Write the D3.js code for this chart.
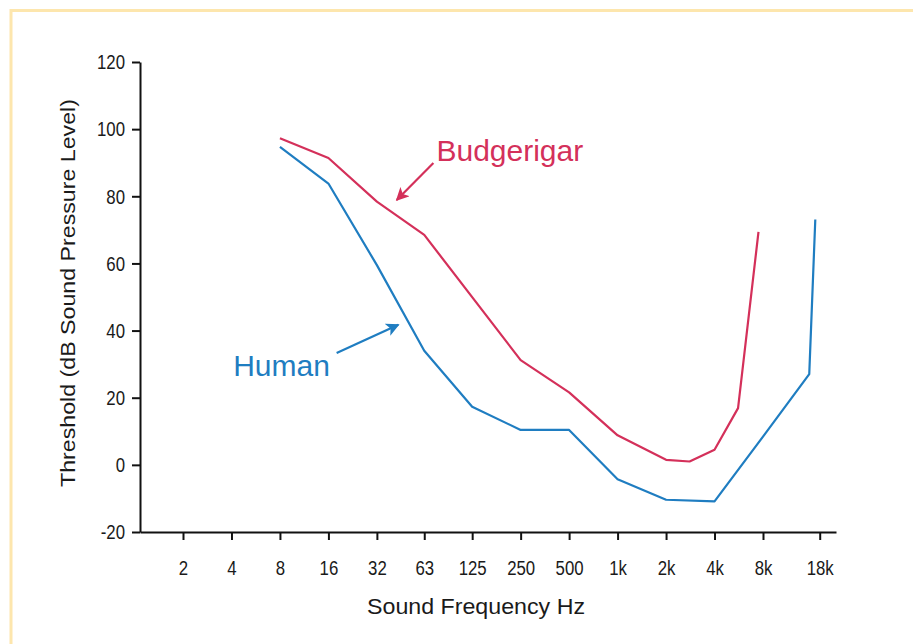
<!DOCTYPE html>
<html>
<head>
<meta charset="utf-8">
<script src="https://cdn.jsdelivr.net/npm/d3@7"></script>
<style>
  html, body { margin: 0; padding: 0; background: #ffffff; }
  svg { display: block; }
  text { font-family: "Liberation Sans", Arial, Helvetica, sans-serif; }
</style>
</head>
<body>
<svg id="chart" width="913" height="644"></svg>
<script>
// ---------- data ----------
const tickFreqs  = [2, 4, 8, 16, 32, 63, 125, 250, 500, 1000, 2000, 4000, 8000, 18000];
const tickLabels = ["2", "4", "8", "16", "32", "63", "125", "250", "500", "1k", "2k", "4k", "8k", "18k"];
const yTicks     = [-20, 0, 20, 40, 60, 80, 100, 120];

const budgieFreq = [8, 16, 32, 63, 250, 500, 1000, 2000, 2800, 4000, 5600, 7500];
const budgieDb   = [97.3, 91.4, 78.4, 68.5, 31.2, 21.6, 8.8, 1.5, 1.0, 4.5, 16.9, 69.4];

const humanFreq  = [8, 16, 32, 63, 125, 250, 500, 1000, 2000, 4000, 8000, 15500, 16900];
const humanDb    = [94.7, 83.8, 59.5, 34.0, 17.3, 10.4, 10.4, -4.3, -10.4, -10.9, 8.4, 27.0, 73.1];

const seriesNames = ["Budgerigar", "Human"];
const seriesColors = ["#d4305a", "#1f7dc1"];

// annotation anchors in data space [freq, dB]
const annText  = [[75, 90.6], [4.1, 26.5]];
const annTail  = [[71.8, 89.9], [18.0, 33.3]];
const annTip   = [[42.5, 78.9], [43.5, 41.7]];

// ---------- scales ----------
const svg = d3.select("#chart");

// light yellow frame
svg.append("rect")
  .attr("x", 11).attr("y", 10.5)
  .attr("width", 940).attr("height", 700)
  .attr("fill", "none").attr("stroke", "#fde6ad").attr("stroke-width", 3);

const base = d3.scaleLog().base(2).domain([2, 8000]).range([183, 763]);
const x = base.copy().domain([base.invert(140), base.invert(836)]).range([140, 836]);
const y = d3.scaleLinear().domain([-20, 120]).range([532, 62]);

// ---------- axes ----------
const SX = 0.8;
const xAxis = d3.axisBottom(x)
  .tickValues(tickFreqs)
  .tickFormat((d, i) => tickLabels[i])
  .tickSizeInner(8).tickSizeOuter(0).tickPadding(20);

const gx = svg.append("g").attr("transform", "translate(0,532)").call(xAxis);
gx.select(".domain").attr("stroke", "#111").attr("stroke-width", 2);
gx.selectAll(".tick line").attr("stroke", "#111").attr("stroke-width", 2).attr("y1", 1);
gx.selectAll(".tick text")
  .attr("font-size", 21).attr("fill", "#1a1a1a")
  .attr("transform", `scale(${SX},1)`);

const yAxis = d3.axisLeft(y)
  .tickValues(yTicks)
  .tickFormat(d => String(d))
  .tickSizeInner(8).tickSizeOuter(0).tickPadding(8);

const gy = svg.append("g").attr("transform", "translate(140,0)").call(yAxis);
gy.select(".domain").attr("stroke", "#111").attr("stroke-width", 2);
gy.selectAll(".tick line").attr("stroke", "#111").attr("stroke-width", 2);
gy.selectAll(".tick text")
  .attr("font-size", 21).attr("fill", "#1a1a1a")
  .attr("x", -15 / SX)
  .attr("transform", `scale(${SX},1)`);

// axis titles
svg.append("text")
  .attr("x", 476).attr("y", 614)
  .attr("text-anchor", "middle")
  .attr("font-size", 22).attr("fill", "#1a1a1a")
  .attr("textLength", 218).attr("lengthAdjust", "spacingAndGlyphs")
  .text("Sound Frequency Hz");

svg.append("text")
  .attr("transform", "translate(75,293) rotate(-90)")
  .attr("text-anchor", "middle")
  .attr("font-size", 21).attr("fill", "#1a1a1a")
  .attr("textLength", 388).attr("lengthAdjust", "spacingAndGlyphs")
  .text("Threshold (dB Sound Pressure Level)");

// ---------- lines ----------
const line = d3.line().x(d => x(d[0])).y(d => y(d[1]));
const series = [
  d3.zip(budgieFreq, budgieDb),
  d3.zip(humanFreq, humanDb)
];

series.forEach((pts, i) => {
  svg.append("path")
    .datum(pts)
    .attr("d", line)
    .attr("fill", "none")
    .attr("stroke", seriesColors[i])
    .attr("stroke-width", 2.2)
    .attr("stroke-linejoin", "round");
});

// ---------- annotations ----------
const defs = svg.append("defs");
seriesColors.forEach((c, i) => {
  defs.append("marker")
    .attr("id", "arrow" + i)
    .attr("viewBox", "0 0 10 10")
    .attr("refX", 9).attr("refY", 5)
    .attr("markerWidth", 6).attr("markerHeight", 6)
    .attr("markerUnits", "strokeWidth")
    .attr("orient", "auto")
    .append("path")
    .attr("d", "M0,0 L10,5 L0,10 L2.5,5 Z")
    .attr("fill", c);
});

seriesNames.forEach((name, i) => {
  svg.append("line")
    .attr("x1", x(annTail[i][0])).attr("y1", y(annTail[i][1]))
    .attr("x2", x(annTip[i][0])).attr("y2", y(annTip[i][1]))
    .attr("stroke", seriesColors[i])
    .attr("stroke-width", 2.2)
    .attr("marker-end", `url(#arrow${i})`);
  svg.append("text")
    .attr("x", x(annText[i][0])).attr("y", y(annText[i][1]))
    .attr("font-size", 30)
    .attr("fill", seriesColors[i])
    .text(name);
});
</script>
</body>
</html>
